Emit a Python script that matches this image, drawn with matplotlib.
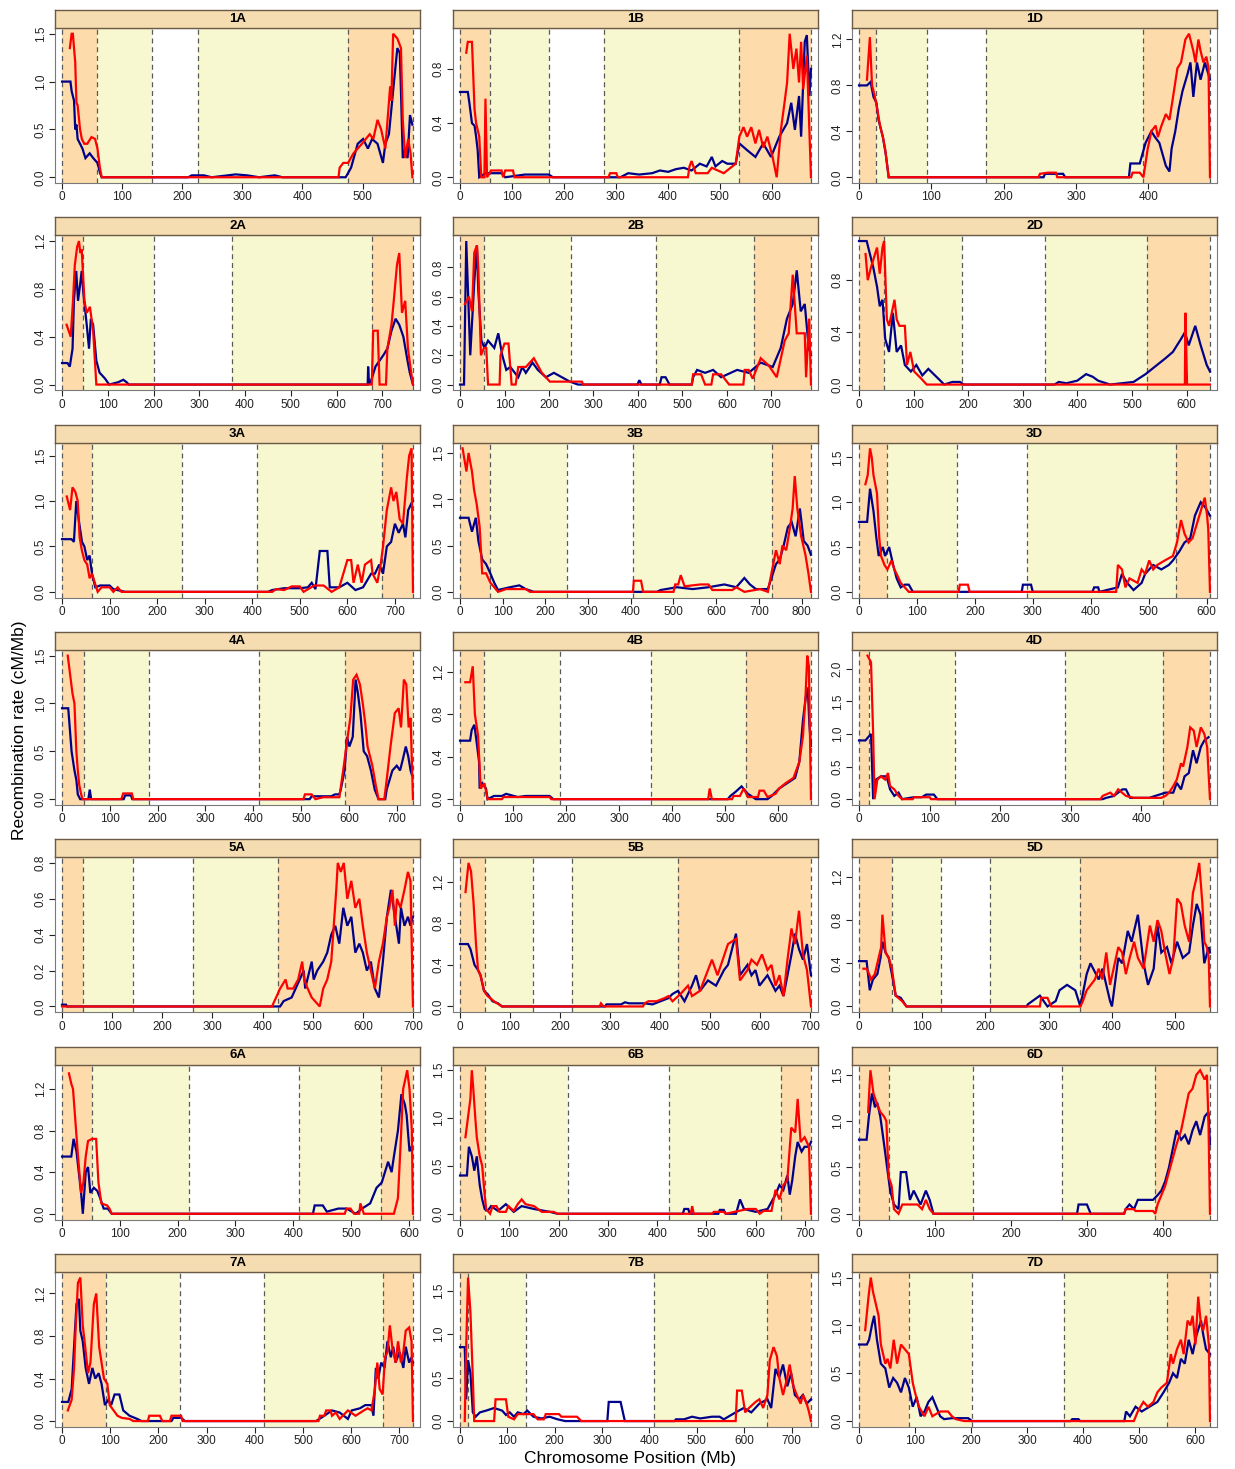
import matplotlib
matplotlib.use("Agg")
import matplotlib.pyplot as plt
import numpy as np

plt.rcParams["font.family"] = ["Liberation Sans", "DejaVu Sans"]

# chromosome panels, region boundaries (R1 | R2a | C | R2b | R3), last = end of data (Mb)
names = ["1A", "1B", "1D", "2A", "2B", "2D", "3A", "3B", "3D", "4A", "4B", "4D",
         "5A", "5B", "5D", "6A", "6B", "6D", "7A", "7B", "7D"]
bounds = [
    [0, 59, 149, 226, 476, 584], [0, 57, 171, 278, 538, 676], [0, 24, 94, 176, 393, 485],
    [0, 45, 200, 371, 677, 767], [0, 55, 250, 440, 662, 789], [0, 46, 189, 341, 527, 643],
    [0, 62, 252, 410, 673, 738], [0, 71, 251, 405, 731, 822], [0, 49, 170, 290, 548, 606],
    [0, 45, 182, 411, 591, 734], [0, 45, 188, 360, 540, 662], [0, 14, 136, 291, 431, 497],
    [0, 41, 142, 261, 431, 700], [0, 49, 146, 223, 436, 702], [0, 52, 130, 207, 350, 555],
    [0, 51, 220, 410, 551, 607], [0, 50, 220, 424, 651, 712], [0, 39, 150, 267, 390, 462],
    [0, 92, 244, 418, 665, 728], [0, 17, 139, 410, 649, 741], [0, 89, 202, 367, 550, 627],
]
ystep = [0.5, 0.4, 0.4, 0.4, 0.2, 0.4, 0.5, 0.5, 0.5, 0.5, 0.4, 0.5,
         0.2, 0.4, 0.4, 0.4, 0.5, 0.5, 0.4, 0.5, 0.5]

# (position Mb, rate cM/Mb)
red_1A = [(13, 1.35), (16, 1.5), (18, 1.5), (22, 1.2), (24, 0.78), (26, 0.75), (30, 0.5), (33, 0.4),
          (37, 0.35), (42, 0.35), (49, 0.42), (55, 0.4), (59, 0.3), (63, 0.1), (66, 0), (460, 0),
          (462, 0.1), (468, 0.15), (476, 0.15), (485, 0.25), (499, 0.35), (512, 0.45), (518, 0.4),
          (525, 0.6), (531, 0.5), (538, 0.3), (546, 0.95), (548, 0.8), (551, 1.5), (558, 1.45),
          (564, 1.35), (567, 0.6), (571, 0.2), (576, 0.4), (580, 0.25), (583, 0)]
blue_1A = [(0, 1.0), (14, 1.0), (16, 0.9), (20, 0.8), (22, 0.5), (24, 0.55), (26, 0.4), (30, 0.35),
           (34, 0.3), (39, 0.2), (46, 0.25), (52, 0.2), (59, 0.15), (63, 0.05), (66, 0), (210, 0),
           (216, 0.02), (236, 0.02), (249, 0), (276, 0.02), (289, 0.03), (308, 0.02), (328, 0),
           (354, 0.02), (367, 0), (472, 0), (481, 0.1), (492, 0.35), (501, 0.4), (509, 0.3),
           (516, 0.4), (525, 0.35), (534, 0.15), (538, 0.35), (544, 0.45), (554, 1.1), (558, 1.35),
           (562, 1.3), (564, 0.9), (567, 0.2), (571, 0.3), (575, 0.2), (579, 0.65), (583, 0.55)]

red_1B = [(12, 0.92), (15, 1.0), (23, 1.0), (28, 0.5), (31, 0.4), (37, 0.3), (41, 0), (47, 0),
          (49, 0.58), (52, 0), (60, 0.05), (80, 0.05), (83, 0), (87, 0.05), (102, 0.05), (105, 0),
          (286, 0), (289, 0.03), (301, 0.03), (304, 0), (439, 0), (442, 0.08), (446, 0.12),
          (454, 0.03), (477, 0.03), (485, 0.07), (508, 0.03), (531, 0.1), (538, 0.3), (546, 0.37),
          (553, 0.3), (561, 0.37), (569, 0.25), (576, 0.35), (584, 0.22), (592, 0.3), (602, 0.15),
          (610, 0), (618, 0.35), (625, 0.55), (630, 0.7), (635, 1.06), (642, 0.8), (648, 0.95),
          (653, 0.7), (657, 1.0), (661, 0.65), (668, 0.9), (676, 0)]
blue_1B = [(0, 0.63), (15, 0.63), (18, 0.55), (23, 0.4), (28, 0.38), (31, 0.3), (34, 0.2), (37, 0),
           (49, 0.03), (80, 0.03), (87, 0), (125, 0.02), (171, 0.02), (179, 0), (309, 0),
           (324, 0.03), (345, 0.02), (370, 0.03), (385, 0.05), (401, 0.04), (416, 0.06), (431, 0.07),
           (446, 0.05), (462, 0.1), (475, 0.08), (485, 0.15), (492, 0.08), (505, 0.12), (515, 0.1),
           (531, 0.1), (538, 0.25), (553, 0.2), (569, 0.15), (584, 0.25), (599, 0.15),
           (615, 0.3), (630, 0.4), (638, 0.55), (645, 0.35), (653, 0.6), (657, 0.3), (664, 1.0),
           (668, 1.05), (673, 0.6), (676, 0.8)]

red_1D = [(11, 0.85), (15, 1.22), (18, 0.8), (22, 0.7), (25, 0.6), (29, 0.45), (33, 0.35), (36, 0.25),
          (41, 0), (248, 0), (250, 0.03), (261, 0.04), (272, 0.04), (274, 0), (376, 0), (378, 0.04),
          (388, 0.04), (393, 0), (399, 0.25), (404, 0.4), (410, 0.45), (413, 0.35), (418, 0.45),
          (424, 0.55), (429, 0.5), (434, 0.7), (440, 0.95), (445, 1.0), (451, 1.2), (456, 1.25),
          (462, 1.1), (465, 1.0), (469, 1.2), (472, 1.1), (476, 1.0), (480, 1.05), (483, 0.95), (485, 0)]
blue_1D = [(0, 0.8), (11, 0.8), (16, 0.83), (20, 0.7), (24, 0.65), (27, 0.5), (33, 0.35), (37, 0.2),
           (41, 0), (255, 0), (257, 0.03), (282, 0.03), (285, 0), (373, 0), (375, 0.12), (388, 0.12),
           (396, 0.3), (404, 0.4), (409, 0.35), (415, 0.3), (424, 0.1), (429, 0.05), (432, 0.25),
           (437, 0.4), (442, 0.6), (447, 0.75), (454, 0.9), (458, 1.0), (462, 0.7), (467, 1.0),
           (472, 0.85), (478, 1.0), (485, 0.85)]

red_2A = [(10, 0.5), (19, 0.4), (24, 0.7), (28, 1.0), (33, 1.15), (37, 1.2), (40, 1.1), (43, 1.13),
          (49, 0.7), (54, 0.6), (61, 0.65), (68, 0.45), (75, 0), (677, 0), (680, 0.45), (690, 0.45),
          (694, 0), (708, 0), (711, 0.3), (720, 0.5), (725, 0.7), (732, 1.0), (737, 1.1), (743, 0.6),
          (750, 0.7), (753, 0.5), (756, 0.3), (763, 0.1), (767, 0)]
blue_2A = [(0, 0.18), (12, 0.18), (17, 0.15), (23, 0.3), (26, 0.7), (31, 0.95), (35, 0.7), (40, 0.85),
           (43, 0.95), (47, 0.75), (54, 0.5), (59, 0.3), (63, 0.55), (68, 0.5), (75, 0.2), (82, 0.1),
           (94, 0.05), (103, 0), (123, 0.02), (134, 0.04), (141, 0.02), (146, 0), (668, 0),
           (669, 0.15), (671, 0), (677, 0.05), (685, 0.15), (703, 0.25), (711, 0.3), (720, 0.45),
           (729, 0.55), (737, 0.5), (746, 0.4), (755, 0.2), (760, 0.1), (767, 0)]

red_2B = [(11, 0.55), (20, 0.6), (27, 0.5), (32, 0.9), (38, 0.95), (41, 0.8), (47, 0.2), (54, 0.25),
          (59, 0.25), (63, 0), (89, 0), (91, 0.2), (100, 0.28), (109, 0.28), (116, 0), (125, 0),
          (131, 0.12), (148, 0.12), (166, 0.18), (184, 0.08), (202, 0.02), (274, 0.02), (277, 0),
          (521, 0), (524, 0.07), (542, 0.07), (551, 0), (565, 0), (569, 0.07), (587, 0.07), (605, 0),
          (637, 0), (640, 0.1), (649, 0.1), (658, 0.04), (676, 0.18), (694, 0.13), (712, 0.05),
          (730, 0.3), (739, 0.35), (748, 0.75), (757, 0.35), (775, 0.35), (778, 0.05), (785, 0.45),
          (789, 0)]
blue_2B = [(0, 0), (9, 0), (14, 0.98), (23, 0.2), (32, 0.7), (38, 0.95), (41, 0.65), (48, 0.3),
           (55, 0.25), (63, 0.3), (77, 0.25), (86, 0.35), (95, 0.2), (104, 0.1), (113, 0.12),
           (131, 0.05), (140, 0.12), (148, 0.08), (163, 0.15), (175, 0.1), (193, 0.05), (211, 0.08),
           (229, 0.05), (247, 0.02), (265, 0), (399, 0), (403, 0.03), (408, 0), (449, 0), (453, 0.05),
           (462, 0.05), (471, 0), (521, 0), (524, 0.05), (533, 0.1), (551, 0.08), (569, 0.1),
           (587, 0.05), (623, 0.1), (649, 0.08), (676, 0.15), (703, 0.12), (721, 0.25), (735, 0.45),
           (748, 0.55), (757, 0.78), (766, 0.5), (775, 0.55), (784, 0.25), (789, 0.2)]

red_2D = [(12, 1.0), (16, 0.8), (22, 0.9), (33, 1.05), (38, 0.85), (43, 1.05), (46, 1.1), (51, 0.5),
          (55, 0.45), (65, 0.65), (69, 0.5), (74, 0.45), (84, 0.45), (88, 0.15), (94, 0.25),
          (101, 0.1), (113, 0.05), (124, 0), (597, 0), (598, 0.55), (601, 0), (643, 0)]
blue_2D = [(0, 1.1), (14, 1.1), (20, 1.0), (26, 0.9), (33, 0.75), (38, 0.6), (43, 0.65), (48, 0.35),
           (55, 0.25), (62, 0.55), (69, 0.25), (77, 0.3), (84, 0.15), (95, 0.1), (105, 0.15),
           (116, 0.07), (127, 0.12), (149, 0.03), (156, 0), (171, 0.02), (185, 0.02), (192, 0),
           (358, 0), (366, 0.02), (380, 0.01), (400, 0.03), (416, 0.08), (428, 0.06), (438, 0.03),
           (460, 0), (503, 0.02), (525, 0.08),
           (546, 0.15), (561, 0.2), (575, 0.25), (590, 0.35), (597, 0.4), (604, 0.3), (616, 0.45),
           (626, 0.3), (637, 0.15), (643, 0.1)]

red_3A = [(10, 1.05), (17, 0.9), (22, 1.15), (28, 1.1), (33, 1.0), (37, 0.6), (42, 0.45), (47, 0.35),
          (53, 0.3), (58, 0.15), (63, 0.2), (72, 0.05), (75, 0), (83, 0.05), (100, 0.05), (108, 0),
          (117, 0.05), (125, 0), (442, 0), (450, 0.03), (467, 0.02), (483, 0.06), (500, 0.06),
          (508, 0), (530, 0.07), (550, 0.07), (567, 0), (583, 0.05), (600, 0.35), (608, 0.35),
          (613, 0.1), (622, 0.3), (630, 0.1), (637, 0.3), (650, 0.35), (653, 0.2), (663, 0.1),
          (670, 0.3), (675, 0.5), (683, 0.9), (692, 1.15), (697, 1.0), (703, 1.1), (710, 0.8),
          (717, 0.75), (725, 1.25), (730, 1.5), (735, 1.58), (738, 0)]
blue_3A = [(0, 0.58), (20, 0.58), (25, 0.55), (30, 1.0), (35, 0.8), (42, 0.55), (47, 0.5), (53, 0.35),
           (58, 0.4), (63, 0.2), (70, 0.05), (80, 0.07), (100, 0.07), (108, 0.03), (133, 0), (433, 0),
           (442, 0.02), (467, 0.04), (500, 0.04), (517, 0.05), (525, 0.1), (533, 0.03), (542, 0.45),
           (558, 0.45), (563, 0.05), (583, 0.05), (600, 0.1), (617, 0.02), (633, 0.05), (650, 0.2),
           (658, 0.2), (667, 0.3), (675, 0.2), (683, 0.5), (692, 0.55), (700, 0.75), (708, 0.65),
           (717, 0.75), (722, 0.6), (728, 0.9), (737, 1.0), (738, 1.0)]

red_3B = [(6, 1.55), (15, 1.3), (20, 1.5), (28, 1.3), (33, 1.1), (39, 0.95), (46, 0.7), (52, 0.2),
          (61, 0.2), (71, 0.1), (80, 0.05), (89, 0), (108, 0.03), (154, 0.03), (164, 0), (405, 0),
          (407, 0.12), (424, 0.12), (429, 0), (500, 0), (504, 0.08), (511, 0.08), (517, 0.18),
          (526, 0.06), (563, 0.08), (582, 0.08), (591, 0.02), (638, 0.02), (647, 0.05), (666, 0),
          (703, 0.03), (721, 0), (740, 0.45), (749, 0.3), (755, 0.5), (764, 0.45), (773, 0.7),
          (779, 0.9), (784, 1.25), (790, 0.9), (799, 0.6), (809, 0.4), (816, 0.2), (822, 0)]
blue_3B = [(0, 0.8), (13, 0.8), (20, 0.8), (28, 0.65), (37, 0.8), (43, 0.55), (52, 0.35), (61, 0.3),
           (71, 0.2), (80, 0.1), (89, 0.02), (117, 0.05), (139, 0.07), (154, 0.03), (173, 0),
           (461, 0), (470, 0.02), (508, 0.05), (545, 0.03), (582, 0.05), (619, 0.08), (647, 0.05),
           (666, 0.15), (679, 0.08), (693, 0.03), (721, 0.03), (740, 0.3), (749, 0.35), (758, 0.5),
           (768, 0.7), (777, 0.75), (786, 0.6), (796, 0.9), (805, 0.55), (814, 0.5), (822, 0.4)]

red_3D = [(11, 1.2), (15, 1.3), (19, 1.6), (22, 1.5), (25, 1.3), (31, 1.1), (35, 0.6), (38, 0.4),
          (44, 0.3), (49, 0.25), (56, 0.35), (61, 0.25), (65, 0.2), (72, 0.1), (79, 0.05), (86, 0),
          (172, 0), (174, 0.08), (188, 0.08), (191, 0), (444, 0), (447, 0.3), (454, 0.25),
          (460, 0.05), (467, 0.15), (481, 0.1), (488, 0.25), (494, 0.2), (501, 0.35), (508, 0.25),
          (515, 0.3), (528, 0.35), (542, 0.4), (549, 0.55), (556, 0.8), (562, 0.65), (569, 0.55),
          (576, 0.6), (583, 0.75), (590, 0.9), (597, 1.05), (601, 0.85), (603, 0.7), (606, 0)]
blue_3D = [(0, 0.78), (14, 0.78), (19, 1.15), (25, 0.9), (30, 0.6), (34, 0.4), (41, 0.5), (45, 0.4),
           (52, 0.5), (59, 0.3), (65, 0.15), (72, 0.05), (79, 0.08), (86, 0.08), (93, 0), (281, 0),
           (283, 0.08), (297, 0.08), (300, 0), (403, 0), (406, 0.05), (413, 0.05), (415, 0),
           (447, 0.05), (454, 0.2), (463, 0.1), (474, 0.02), (488, 0.1), (494, 0.2), (508, 0.3),
           (522, 0.25), (535, 0.3), (542, 0.35), (553, 0.45), (562, 0.55), (572, 0.6), (580, 0.85),
           (590, 1.0), (597, 0.95), (606, 0.85)]

red_4A = [(12, 1.5), (22, 1.1), (26, 1.0), (30, 0.5), (33, 0.3), (36, 0.15), (40, 0.05), (43, 0),
          (124, 0), (128, 0.06), (146, 0.06), (149, 0), (505, 0), (508, 0.05), (522, 0.05), (530, 0),
          (546, 0.02), (580, 0.02), (588, 0.3), (596, 0.6), (603, 0.85), (609, 1.25), (616, 1.3),
          (623, 1.2), (629, 1.0), (634, 0.8), (639, 0.55), (649, 0.35), (656, 0.15), (662, 0),
          (674, 0), (679, 0.2), (687, 0.55), (696, 0.9), (704, 0.95), (709, 0.75), (715, 1.25),
          (720, 1.2), (725, 0.75), (729, 0.85), (734, 0)]
blue_4A = [(0, 0.95), (13, 0.95), (20, 0.5), (26, 0.3), (30, 0.2), (33, 0.05), (38, 0), (55, 0),
           (58, 0.1), (61, 0), (129, 0), (132, 0.04), (144, 0.04), (147, 0), (518, 0), (522, 0.03),
           (563, 0.03), (571, 0.05), (580, 0.05), (583, 0.1), (591, 0.3), (596, 0.65), (601, 0.55),
           (608, 0.65), (614, 1.25), (619, 1.1), (624, 0.9), (631, 0.5), (638, 0.45), (646, 0.3),
           (654, 0.1), (662, 0), (676, 0), (679, 0.1), (691, 0.3), (700, 0.35), (707, 0.3),
           (712, 0.4), (719, 0.55), (724, 0.45), (729, 0.3), (732, 0.25)]

red_4B = [(10, 1.1), (19, 1.1), (24, 1.25), (28, 0.8), (34, 0.6), (39, 0.1), (46, 0.15), (52, 0),
          (79, 0), (82, 0.02), (169, 0.02), (172, 0), (468, 0), (471, 0.1), (475, 0), (513, 0),
          (516, 0.03), (528, 0.03), (535, 0.1), (543, 0.02), (562, 0.02), (565, 0.08), (573, 0.08),
          (580, 0.02), (595, 0.05), (602, 0.1), (614, 0.15), (629, 0.2), (640, 0.35), (647, 0.6),
          (652, 1.0), (655, 1.35), (658, 1.25), (662, 0)]
blue_4B = [(0, 0.55), (16, 0.55), (19, 0.55), (22, 0.65), (27, 0.7), (31, 0.55), (36, 0.35),
           (37, 0.1), (42, 0.15), (49, 0.1), (52, 0), (64, 0.03), (79, 0.03), (87, 0.05),
           (109, 0.02), (124, 0.03), (169, 0.03), (176, 0), (505, 0), (510, 0.03), (520, 0.07),
           (531, 0.12), (543, 0.05), (558, 0), (580, 0), (588, 0.03), (602, 0.1), (617, 0.15),
           (632, 0.2), (640, 0.35), (647, 0.75), (652, 0.95), (656, 1.05), (659, 0.7), (662, 0.5)]

red_4D = [(12, 2.2), (17, 2.1), (20, 1.0), (22, 0), (26, 0.3), (31, 0.35), (37, 0.3), (41, 0.4),
          (44, 0.2), (50, 0.15), (56, 0.05), (61, 0), (76, 0), (78, 0.03), (100, 0.03), (102, 0),
          (342, 0), (345, 0.05), (356, 0.1), (361, 0.05), (367, 0.15), (378, 0.05), (389, 0.02),
          (428, 0.02), (434, 0.05), (439, 0.1), (445, 0.2), (450, 0.3), (456, 0.55), (459, 0.5),
          (465, 0.8), (469, 1.1), (474, 1.05), (478, 0.8), (484, 1.1), (489, 1.0), (493, 0.8), (497, 0)]
blue_4D = [(0, 0.9), (9, 0.9), (13, 0.95), (17, 1.0), (20, 0), (24, 0.3), (31, 0.35), (39, 0.35),
           (44, 0.15), (50, 0.05), (56, 0.1), (61, 0), (78, 0.03), (89, 0.03), (95, 0.07),
           (106, 0.07), (111, 0), (345, 0), (350, 0.02), (361, 0.05), (373, 0.15), (378, 0.15),
           (384, 0.02), (411, 0.02), (434, 0.1), (445, 0.1), (450, 0.25), (456, 0.15), (461, 0.35),
           (467, 0.4), (473, 0.75), (478, 0.55), (484, 0.8), (489, 0.9), (495, 0.95)]

red_5A = [(0, 0), (419, 0), (422, 0.02), (427, 0.05), (435, 0.1), (446, 0.15), (450, 0.1), (461, 0.1),
          (471, 0.15), (479, 0.25), (483, 0.15), (490, 0.1), (498, 0.05), (514, 0), (521, 0.1),
          (529, 0.15), (537, 0.25), (542, 0.45), (547, 0.65), (550, 0.8), (556, 0.75), (562, 0.8),
          (569, 0.6), (577, 0.7), (585, 0.55), (593, 0.6), (600, 0.45), (608, 0.3), (616, 0.2),
          (624, 0.1), (632, 0.25), (640, 0.35), (648, 0.5), (653, 0.55), (659, 0.65), (664, 0.45),
          (668, 0.6), (675, 0.55), (683, 0.65), (690, 0.75), (695, 0.7), (700, 0)]
blue_5A = [(0, 0.01), (8, 0.01), (10, 0), (435, 0), (442, 0.03), (458, 0.05), (466, 0.1), (474, 0.15),
           (482, 0.2), (485, 0.1), (498, 0.25), (502, 0.15), (509, 0.2), (521, 0.25), (529, 0.3),
           (537, 0.4), (545, 0.45), (553, 0.35), (561, 0.55), (569, 0.45), (577, 0.5), (585, 0.3),
           (593, 0.35), (600, 0.3), (608, 0.2), (616, 0.25), (624, 0.1), (632, 0.05), (640, 0.25),
           (648, 0.5), (656, 0.65), (664, 0.5), (672, 0.35), (676, 0.55), (683, 0.45), (690, 0.5),
           (695, 0.45), (700, 0.5)]

red_5B = [(11, 1.1), (17, 1.38), (22, 1.3), (27, 1.0), (32, 0.6), (36, 0.35), (41, 0.3), (48, 0.15),
          (55, 0.1), (68, 0.05), (84, 0), (279, 0), (282, 0.03), (287, 0), (366, 0), (369, 0.03),
          (377, 0.05), (393, 0.05), (409, 0.08), (417, 0.1), (425, 0.05), (441, 0.12), (456, 0.2),
          (464, 0.1), (480, 0.15), (496, 0.35), (504, 0.45), (515, 0.3), (536, 0.6), (552, 0.65),
          (560, 0.25), (575, 0.35), (583, 0.45), (594, 0.4), (604, 0.5), (615, 0.35), (623, 0.4),
          (631, 0.2), (639, 0.3), (647, 0.1), (655, 0.45), (663, 0.75), (670, 0.6), (678, 0.92),
          (686, 0.5), (694, 0.35), (702, 0)]
blue_5B = [(0, 0.6), (16, 0.6), (21, 0.55), (29, 0.4), (36, 0.35), (41, 0.3), (48, 0.15), (55, 0.12),
           (65, 0.05), (76, 0.03), (84, 0), (290, 0), (293, 0.02), (322, 0.02), (330, 0.04),
           (338, 0.03), (369, 0.03), (385, 0.02), (401, 0.05), (417, 0.08), (425, 0.12), (436, 0.15),
           (449, 0.05), (464, 0.2), (472, 0.3), (480, 0.15), (496, 0.25), (512, 0.2), (528, 0.35),
           (536, 0.4), (544, 0.55), (552, 0.7), (560, 0.3), (575, 0.4), (583, 0.3), (591, 0.35),
           (599, 0.2), (615, 0.3), (631, 0.15), (639, 0.2), (647, 0.1), (663, 0.5), (670, 0.7),
           (678, 0.55), (686, 0.45), (694, 0.6), (702, 0.3)]

red_5D = [(7, 0.35), (12, 0.35), (16, 0.3), (19, 0.25), (25, 0.3), (31, 0.45), (35, 0.55), (37, 0.85),
          (42, 0.5), (47, 0.45), (52, 0.35), (58, 0.1), (68, 0.05), (75, 0), (286, 0), (288, 0.08),
          (298, 0.08), (304, 0), (350, 0), (354, 0.05), (360, 0.15), (373, 0.25), (379, 0.35),
          (385, 0.25), (391, 0.5), (397, 0.2), (410, 0.55), (416, 0.5), (422, 0.3), (428, 0.45),
          (435, 0.6), (441, 0.45), (450, 0.35), (460, 0.75), (466, 0.6), (472, 0.8), (478, 0.7),
          (484, 0.5), (491, 0.3), (497, 0.45), (503, 1.0), (509, 0.95), (515, 0.75), (522, 0.6),
          (528, 1.05), (534, 1.2), (538, 1.33), (543, 0.95), (546, 0.6), (550, 0.55), (553, 0.45),
          (555, 0)]
blue_5D = [(0, 0.42), (12, 0.42), (17, 0.15), (22, 0.25), (29, 0.3), (34, 0.45), (37, 0.6), (42, 0.5),
           (47, 0.45), (52, 0.3), (58, 0.1), (66, 0.08), (75, 0), (265, 0), (267, 0.02), (286, 0.1),
           (298, 0), (311, 0.05), (317, 0.15), (329, 0.2), (342, 0.15), (350, 0), (360, 0.3),
           (366, 0.4), (379, 0.25), (385, 0.35), (397, 0.05), (400, 0), (410, 0.45), (416, 0.4),
           (425, 0.7), (431, 0.6), (441, 0.85), (450, 0.4), (457, 0.2), (466, 0.35), (472, 0.75),
           (478, 0.5), (487, 0.55), (494, 0.4), (503, 0.6), (512, 0.45), (522, 0.5), (528, 0.75),
           (534, 0.95), (540, 0.85), (546, 0.4), (553, 0.55), (555, 0.5)]

red_6A = [(12, 1.35), (16, 1.25), (19, 1.2), (23, 0.9), (27, 0.6), (30, 0.4), (33, 0.2), (37, 0.3),
          (41, 0.55), (45, 0.7), (52, 0.72), (59, 0.72), (63, 0.3), (68, 0.1), (78, 0.08), (82, 0.05),
          (86, 0), (489, 0), (492, 0.05), (499, 0.05), (505, 0), (514, 0), (516, 0.1), (522, 0),
          (574, 0), (581, 0.15), (585, 0.6), (590, 1.2), (594, 1.3), (597, 1.38), (601, 1.2),
          (605, 0.8), (607, 0)]
blue_6A = [(0, 0.55), (16, 0.55), (20, 0.72), (25, 0.6), (29, 0.4), (33, 0.2), (36, 0), (41, 0.4),
           (45, 0.45), (49, 0.2), (55, 0.25), (61, 0.22), (66, 0.15), (72, 0.05), (79, 0.05), (86, 0),
           (434, 0), (437, 0.08), (451, 0.08), (458, 0.02), (478, 0.05), (492, 0.05), (508, 0),
           (519, 0.05), (533, 0.1), (544, 0.25), (553, 0.3), (564, 0.5), (570, 0.4), (574, 0.55),
           (581, 0.8), (587, 1.15), (593, 1.05), (596, 0.95), (601, 0.6), (605, 0.65)]

red_6B = [(11, 0.8), (16, 1.0), (21, 1.2), (24, 1.5), (27, 1.3), (31, 1.0), (34, 0.8), (40, 0.6),
          (45, 0.5), (50, 0.2), (53, 0.05), (61, 0), (66, 0.08), (74, 0.08), (80, 0.02), (93, 0.02),
          (98, 0.08), (109, 0.03), (117, 0.1), (125, 0.15), (133, 0.1), (150, 0.08), (166, 0.02),
          (190, 0.02), (198, 0), (468, 0), (471, 0.08), (474, 0), (511, 0), (515, 0.02), (535, 0.02),
          (539, 0), (584, 0.05), (600, 0.05), (608, 0), (616, 0.03), (632, 0.03), (640, 0.25),
          (648, 0.15), (656, 0.3), (664, 0.35), (672, 0.9), (680, 0.85), (685, 1.2), (691, 0.75),
          (699, 0.8), (708, 0.7), (712, 0)]
blue_6B = [(0, 0.4), (14, 0.4), (18, 0.7), (24, 0.6), (29, 0.45), (34, 0.6), (40, 0.3), (45, 0.15),
           (50, 0.05), (56, 0.03), (63, 0.08), (77, 0.03), (93, 0.1), (109, 0.02), (125, 0.08),
           (150, 0.05), (182, 0.02), (198, 0), (452, 0), (455, 0.05), (463, 0.05), (466, 0),
           (524, 0), (527, 0.04), (535, 0.04), (539, 0), (560, 0), (568, 0.15), (576, 0.05),
           (600, 0.02), (624, 0.05), (640, 0.2), (648, 0.3), (656, 0.25), (664, 0.4), (669, 0.2),
           (674, 0.35), (680, 0.6), (685, 0.75), (693, 0.65), (699, 0.7), (708, 0.7), (712, 0.75)]

red_6D = [(12, 1.1), (15, 1.55), (19, 1.3), (23, 1.2), (28, 1.1), (33, 1.05), (36, 1.0), (39, 0.4),
          (43, 0.3), (46, 0.05), (52, 0), (57, 0.1), (77, 0.1), (83, 0.05), (88, 0.15), (93, 0.05),
          (98, 0), (349, 0), (351, 0.05), (362, 0.05), (364, 0.03), (387, 0.03), (390, 0),
          (393, 0.1), (398, 0.2), (403, 0.3), (408, 0.45), (413, 0.6), (418, 0.75), (424, 0.9),
          (429, 1.1), (434, 1.3), (439, 1.35), (444, 1.5), (449, 1.55), (455, 1.45), (458, 1.5),
          (460, 1.0), (462, 0)]
blue_6D = [(0, 0.8), (10, 0.8), (13, 1.05), (17, 1.3), (21, 1.15), (24, 1.2), (28, 1.05), (33, 0.75),
           (37, 0.5), (41, 0.25), (46, 0.1), (52, 0.05), (55, 0.45), (62, 0.45), (67, 0.15),
           (72, 0.25), (75, 0.2), (81, 0.1), (88, 0.25), (93, 0.15), (98, 0), (287, 0), (289, 0.1),
           (300, 0.1), (305, 0), (349, 0), (351, 0.05), (356, 0.1), (362, 0.05), (367, 0.15),
           (387, 0.15), (393, 0.2), (398, 0.25), (403, 0.35), (408, 0.5), (413, 0.7), (418, 0.9),
           (424, 0.8), (429, 0.85), (434, 0.75), (439, 0.9), (444, 1.0), (449, 0.85), (455, 1.05),
           (460, 1.1), (462, 0.75)]

red_7A = [(12, 0.1), (20, 0.2), (25, 0.5), (28, 0.85), (33, 1.3), (38, 1.35), (43, 0.9), (48, 0.7),
          (54, 0.45), (59, 0.55), (66, 1.1), (71, 1.2), (77, 0.7), (87, 0.4), (94, 0.35), (99, 0.15),
          (107, 0.1), (115, 0.05), (124, 0.03), (140, 0.02), (148, 0), (178, 0), (181, 0.05),
          (203, 0.05), (208, 0), (224, 0), (227, 0.05), (247, 0.05), (250, 0), (532, 0), (535, 0.05),
          (544, 0.05), (548, 0.1), (557, 0.1), (560, 0.05), (568, 0.08), (576, 0.02), (593, 0.1),
          (609, 0.05), (626, 0.1), (634, 0.12), (642, 0.1), (649, 0.3), (654, 0.55), (659, 0.3),
          (665, 0.25), (670, 0.6), (675, 0.65), (680, 0.9), (685, 0.7), (692, 0.55), (697, 0.75),
          (703, 0.55), (708, 0.65), (713, 0.85), (720, 0.88), (725, 0.75), (728, 0)]
blue_7A = [(0, 0.18), (13, 0.18), (20, 0.3), (25, 0.7), (30, 1.1), (35, 1.15), (38, 0.85), (43, 0.75),
           (49, 0.5), (56, 0.35), (63, 0.5), (69, 0.4), (76, 0.45), (82, 0.35), (89, 0.15), (96, 0.2),
           (102, 0.15), (109, 0.25), (119, 0.25), (127, 0.1), (140, 0.05), (156, 0.02), (165, 0),
           (227, 0), (231, 0.03), (247, 0.03), (255, 0), (527, 0), (544, 0.05), (560, 0.1),
           (576, 0.08), (593, 0.02), (601, 0.1), (618, 0.12), (629, 0.15), (642, 0.15), (646, 0.05),
           (651, 0.5), (656, 0.4), (662, 0.55), (669, 0.5), (675, 0.75), (682, 0.6), (687, 0.7),
           (692, 0.55), (700, 0.65), (708, 0.5), (713, 0.7), (720, 0.55), (725, 0.6), (728, 0.55)]

red_7B = [(10, 0), (13, 0.85), (17, 1.65), (22, 1.25), (27, 0.5), (30, 0), (72, 0), (75, 0.25),
          (97, 0.25), (102, 0.05), (114, 0.02), (122, 0.08), (147, 0.08), (155, 0.08), (164, 0.02),
          (177, 0.02), (181, 0.08), (209, 0.08), (214, 0.05), (247, 0.05), (256, 0), (582, 0),
          (585, 0.35), (595, 0.35), (602, 0.1), (610, 0.15), (624, 0.22), (632, 0.25), (640, 0.15),
          (649, 0.3), (654, 0.7), (662, 0.85), (669, 0.75), (674, 0.5), (682, 0.3), (691, 0.5),
          (696, 0.65), (704, 0.4), (711, 0.3), (719, 0.2), (724, 0.3), (732, 0.2), (737, 0.1),
          (741, 0)]
blue_7B = [(0, 0.85), (10, 0.85), (13, 0.25), (17, 0.7), (22, 0.55), (27, 0.1), (33, 0.05), (42, 0.1),
           (55, 0.12), (72, 0.15), (89, 0.12), (97, 0.07), (105, 0.1), (114, 0.05), (122, 0.1),
           (134, 0.08), (142, 0.12), (155, 0.05), (172, 0.03), (189, 0.05), (206, 0.02), (222, 0),
           (311, 0), (314, 0.22), (339, 0.22), (348, 0), (453, 0), (456, 0.02), (473, 0.02),
           (490, 0.05), (507, 0.03), (532, 0.05), (548, 0.05), (557, 0.02), (582, 0.1), (599, 0.15),
           (615, 0.1), (632, 0.2), (649, 0.25), (657, 0.15), (666, 0.6), (674, 0.5), (682, 0.65),
           (691, 0.4), (699, 0.55), (707, 0.3), (716, 0.25), (724, 0.3), (732, 0.2), (741, 0.25)]

red_7D = [(11, 0.95), (17, 1.3), (21, 1.5), (25, 1.35), (31, 1.2), (35, 1.1), (39, 0.8), (47, 0.6),
          (51, 0.65), (56, 0.55), (62, 0.85), (68, 0.6), (75, 0.8), (82, 0.75), (89, 0.7), (96, 0.4),
          (100, 0.3), (107, 0.15), (117, 0.05), (124, 0.15), (131, 0.05), (145, 0.1), (159, 0.1),
          (166, 0.05), (173, 0.02), (188, 0), (491, 0), (498, 0.1), (508, 0.2), (516, 0.15),
          (526, 0.2), (533, 0.3), (540, 0.35), (550, 0.4), (557, 0.7), (561, 0.6), (568, 0.75),
          (575, 0.85), (580, 0.7), (587, 1.05), (592, 1.0), (596, 1.1), (601, 0.8), (606, 1.3),
          (611, 1.0), (615, 0.95), (620, 1.1), (625, 0.8), (627, 0)]
blue_7D = [(0, 0.8), (14, 0.8), (18, 0.85), (23, 1.0), (27, 1.1), (32, 0.85), (39, 0.6), (47, 0.55),
           (54, 0.35), (61, 0.45), (68, 0.4), (75, 0.3), (82, 0.45), (89, 0.35), (96, 0.15),
           (103, 0.25), (110, 0.05), (117, 0.1), (124, 0.2), (131, 0.25), (138, 0.15), (145, 0.05),
           (152, 0.02), (166, 0.03), (195, 0.03), (202, 0), (378, 0), (381, 0.02), (392, 0.02),
           (395, 0), (474, 0), (477, 0.1), (484, 0.05), (494, 0.15), (505, 0.1), (519, 0.15),
           (533, 0.2), (544, 0.3), (554, 0.4), (561, 0.5), (568, 0.45), (575, 0.65), (582, 0.6),
           (589, 0.85), (596, 0.7), (603, 0.9), (611, 1.05), (615, 0.9), (620, 0.75), (627, 0.7)]

series = {
    "1A": (red_1A, blue_1A), "1B": (red_1B, blue_1B), "1D": (red_1D, blue_1D),
    "2A": (red_2A, blue_2A), "2B": (red_2B, blue_2B), "2D": (red_2D, blue_2D),
    "3A": (red_3A, blue_3A), "3B": (red_3B, blue_3B), "3D": (red_3D, blue_3D),
    "4A": (red_4A, blue_4A), "4B": (red_4B, blue_4B), "4D": (red_4D, blue_4D),
    "5A": (red_5A, blue_5A), "5B": (red_5B, blue_5B), "5D": (red_5D, blue_5D),
    "6A": (red_6A, blue_6A), "6B": (red_6B, blue_6B), "6D": (red_6D, blue_6D),
    "7A": (red_7A, blue_7A), "7B": (red_7B, blue_7B), "7D": (red_7D, blue_7D),
}

orange = "#FDDBAA"
yellow = "#F8F8D0"
strip_fill = "#F5DDB1"
region_fill = [orange, yellow, "white", yellow, orange]

W, H = 1235, 1469
fig = plt.figure(figsize=(W / 100, H / 100), dpi=100, facecolor="white")

col_left = [55, 453, 852]
ax_w = 365
strip_h = 18
ax_h = 155
row_pitch = 207.3

for i, name in enumerate(names):
    row, col = divmod(i, 3)
    top = 10 + row * row_pitch
    ax = fig.add_axes([col_left[col] / W, 1 - (top + strip_h + ax_h) / H, ax_w / W, ax_h / H])
    b = bounds[i]
    L = b[-1]
    red, blue = series[name]
    ymax = max(v for _, v in red + blue)
    ax.set_xlim(-0.02 * L, 1.02 * L)
    ax.set_ylim(-0.04 * ymax, 1.04 * ymax)

    for k in range(5):
        ax.axvspan(b[k], b[k + 1], color=region_fill[k], lw=0, zorder=0)
    for x in b:
        ax.axvline(x, color="#5a5a5a", ls=(0, (4, 3)), lw=0.9, zorder=1)

    bx, by = zip(*blue)
    rx, ry = zip(*red)
    ax.plot(bx, by, color="#00008B", lw=1.6, zorder=3, solid_joinstyle="miter")
    ax.plot(rx, ry, color="#FF0000", lw=1.6, zorder=4, solid_joinstyle="miter")

    ax.set_xticks(np.arange(0, L + 1, 100))
    yt = np.arange(0, ymax + 1e-6, ystep[i])
    ax.set_yticks(yt)
    ax.set_yticklabels([f"{v:.1f}" for v in yt], rotation=90, va="center")
    ax.tick_params(labelsize=8.5, length=4, width=0.8, pad=2, colors="#222222")
    for sp in ax.spines.values():
        sp.set_color("#7a7a7a")
        sp.set_linewidth(0.8)

    strip = fig.add_axes([col_left[col] / W, 1 - (top + strip_h) / H, ax_w / W, strip_h / H])
    strip.set_facecolor(strip_fill)
    strip.set_xticks([])
    strip.set_yticks([])
    for sp in strip.spines.values():
        sp.set_color("#6b5a45")
        sp.set_linewidth(1.0)
    strip.text(0.5, 0.5, name, ha="center", va="center", fontsize=9.5,
               fontweight="bold", transform=strip.transAxes)

fig.text(20 / W, 1 - 730 / H, "Recombination rate (cM/Mb)", rotation=90,
         ha="center", va="center", fontsize=12.5)
fig.text(630 / W, 1 - 1458 / H, "Chromosome Position (Mb)",
         ha="center", va="center", fontsize=12.5)

fig.savefig("out.png", dpi=100, facecolor="white")
